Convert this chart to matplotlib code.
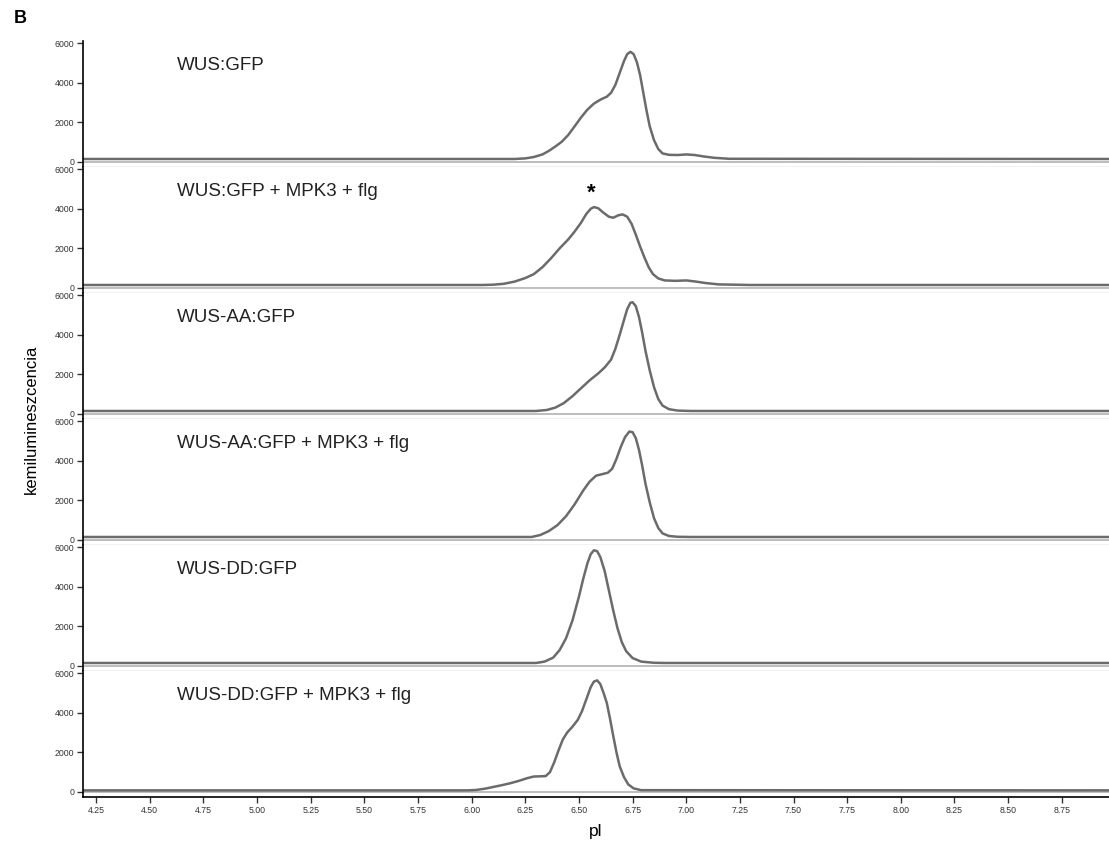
import matplotlib
matplotlib.use("Agg")
import matplotlib.pyplot as plt

plt.rcParams["font.family"] = ["Liberation Sans", "DejaVu Sans"]

labels = ["WUS:GFP", "WUS:GFP + MPK3 + flg", "WUS-AA:GFP",
          "WUS-AA:GFP + MPK3 + flg", "WUS-DD:GFP", "WUS-DD:GFP + MPK3 + flg"]

# values, pI vs chemiluminescence
x1 = [4.19, 6.20, 6.25, 6.29, 6.33, 6.36, 6.39, 6.42, 6.45, 6.48, 6.51, 6.54, 6.57, 6.60,
      6.63, 6.65, 6.67, 6.69, 6.71, 6.725, 6.74, 6.755, 6.77, 6.785, 6.80, 6.815, 6.83,
      6.85, 6.87, 6.89, 6.92, 6.96, 7.00, 7.04, 7.08, 7.13, 7.20, 8.97]
y1 = [150, 150, 180, 250, 380, 560, 780, 1020, 1360, 1800, 2250, 2650, 2950, 3150,
      3300, 3500, 3900, 4500, 5100, 5450, 5570, 5450, 5050, 4400, 3500, 2600, 1800,
      1100, 650, 430, 360, 350, 380, 350, 280, 210, 160, 150]

x2 = [4.19, 6.05, 6.10, 6.15, 6.20, 6.25, 6.29, 6.33, 6.37, 6.41, 6.45, 6.48, 6.51, 6.535,
      6.555, 6.57, 6.59, 6.615, 6.64, 6.66, 6.685, 6.705, 6.725, 6.745, 6.765, 6.785,
      6.805, 6.825, 6.845, 6.87, 6.90, 6.95, 7.00, 7.04, 7.09, 7.15, 7.30, 8.97]
y2 = [150, 150, 165, 210, 320, 500, 700, 1050, 1500, 2000, 2450, 2850, 3300, 3750,
      4000, 4090, 4030, 3800, 3600, 3550, 3680, 3715, 3600, 3250, 2700, 2100,
      1550, 1050, 700, 480, 380, 360, 380, 330, 250, 180, 150, 150]

x3 = [4.19, 6.30, 6.35, 6.39, 6.43, 6.47, 6.51, 6.55, 6.59, 6.62, 6.65, 6.67, 6.69, 6.71,
      6.725, 6.74, 6.75, 6.765, 6.78, 6.795, 6.81, 6.83, 6.85, 6.87, 6.89, 6.92, 6.96,
      7.02, 8.97]
y3 = [150, 150, 200, 320, 550, 900, 1300, 1700, 2050, 2350, 2750, 3300, 4000, 4750,
      5300, 5620, 5650, 5450, 4900, 4100, 3200, 2200, 1350, 750, 420, 240, 170,
      150, 150]

x4 = [4.19, 6.28, 6.32, 6.36, 6.40, 6.44, 6.48, 6.52, 6.55, 6.58, 6.61, 6.635, 6.655,
      6.675, 6.695, 6.715, 6.735, 6.75, 6.765, 6.78, 6.795, 6.81, 6.83, 6.85, 6.87,
      6.89, 6.92, 6.96, 7.02, 8.97]
y4 = [150, 150, 250, 450, 750, 1200, 1800, 2500, 2950, 3250, 3330, 3400, 3600,
      4100, 4700, 5200, 5480, 5450, 5150, 4550, 3750, 2850, 1900, 1100, 600,
      330, 200, 160, 150, 150]

x5 = [4.19, 6.30, 6.34, 6.38, 6.41, 6.44, 6.47, 6.50, 6.52, 6.54, 6.555, 6.57, 6.585,
      6.60, 6.62, 6.64, 6.66, 6.68, 6.70, 6.72, 6.75, 6.79, 6.85, 6.90, 8.97]
y5 = [150, 150, 220, 420, 800, 1400, 2300, 3500, 4400, 5200, 5650, 5850, 5800,
      5500, 4800, 3800, 2800, 1900, 1200, 750, 400, 220, 160, 150, 150]

x6 = [4.19, 5.98, 6.02, 6.06, 6.10, 6.14, 6.18, 6.22, 6.26, 6.29, 6.32, 6.345, 6.365,
      6.385, 6.405, 6.425, 6.445, 6.47, 6.495, 6.515, 6.535, 6.555, 6.57, 6.585, 6.60,
      6.615, 6.63, 6.645, 6.66, 6.675, 6.69, 6.71, 6.73, 6.755, 6.79, 8.97]
y6 = [80, 80, 100, 160, 250, 340, 440, 560, 700, 780, 790, 800, 1000,
      1500, 2100, 2650, 3000, 3300, 3650, 4100, 4700, 5300, 5580, 5640, 5450,
      5000, 4500, 3700, 2830, 2000, 1300, 750, 380, 180, 90, 80]

xs = [x1, x2, x3, x4, x5, x6]
ys = [y1, y2, y3, y4, y5, y6]

xticks = [4.25, 4.50, 4.75, 5.00, 5.25, 5.50, 5.75, 6.00, 6.25, 6.50, 6.75,
          7.00, 7.25, 7.50, 7.75, 8.00, 8.25, 8.50, 8.75]
yticks = [0, 2000, 4000, 6000]

fig, axes = plt.subplots(6, 1, sharex=True, figsize=(11.09, 8.48), dpi=100)
fig.subplots_adjust(left=0.0746, right=1.0, bottom=0.0605, top=0.952, hspace=0)

for i, ax in enumerate(axes):
    ax.axhline(0, color="#b8b8b8", lw=1.3, zorder=1)
    ax.plot(xs[i], ys[i], color="#6b6b6b", lw=1.8, zorder=2, solid_joinstyle="round")
    ax.set_xlim(4.188, 8.97)
    ax.set_ylim(-240, 6130)
    ax.set_yticks(yticks)
    ax.set_yticklabels([str(v) for v in yticks])
    ax.tick_params(axis="y", labelsize=6.3, length=4, width=1, pad=2, colors="#333333")
    ax.spines["top"].set_visible(False)
    ax.spines["right"].set_visible(False)
    ax.spines["left"].set_color("black")
    ax.spines["left"].set_linewidth(1.2)
    if i < 5:
        ax.spines["bottom"].set_color("#b8b8b8")
        ax.spines["bottom"].set_linewidth(1.0)
        ax.tick_params(axis="x", length=0)
    ax.text(4.627, 4900, labels[i], fontsize=13.5, va="center", ha="left", color="#222222")

axes[1].text(6.559, 4770, "*", fontsize=16, ha="center", va="center", fontweight="bold")

ax = axes[-1]
ax.spines["bottom"].set_color("black")
ax.spines["bottom"].set_linewidth(1.2)
ax.set_xticks(xticks)
ax.set_xticklabels(["%.2f" % v for v in xticks])
ax.tick_params(axis="x", labelsize=6.3, length=4, width=1, pad=3, colors="#333333")
ax.set_xlabel("pl", fontsize=12.5, labelpad=6)

fig.text(0.028, 0.505, "kemilumineszcencia", rotation=90, fontsize=12, ha="center", va="center")
fig.text(0.012, 0.978, "B", fontsize=13, fontweight="bold", ha="left", va="center")

fig.savefig("out.png", dpi=100)
